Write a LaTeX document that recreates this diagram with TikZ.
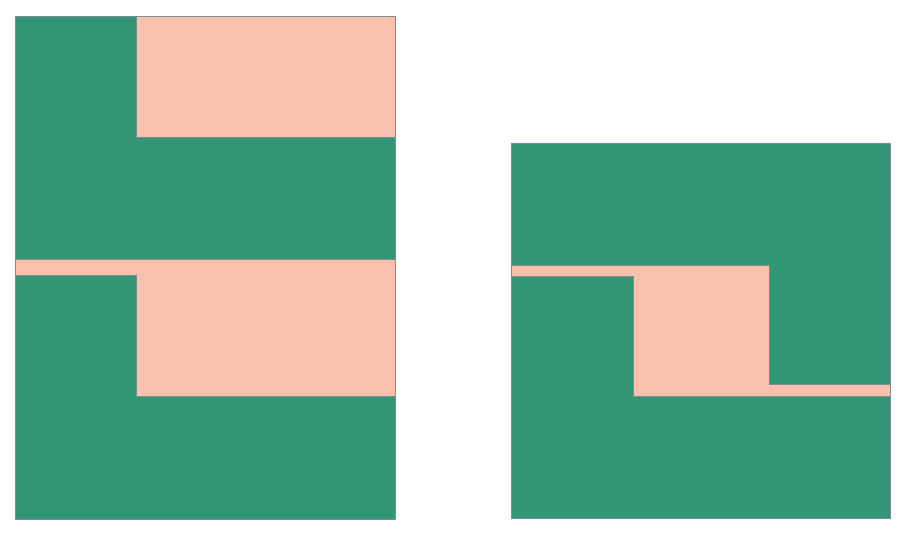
\documentclass[tikz,border=0pt]{standalone}
\definecolor{grn}{HTML}{339674}
\definecolor{pnk}{HTML}{FBC1AC}
\definecolor{edge}{HTML}{7C8A99}
\tikzset{greenarea/.style={fill=grn,draw=edge,line width=0.6pt},
pinkarea/.style={fill=pnk,draw=edge,line width=0.5pt}}
\begin{document}
\begin{tikzpicture}[x=1pt,y=-1pt]
\useasboundingbox (0,0) rectangle (909,540);
% left figure
\path[greenarea] (15,16) rectangle (395,519);
\path[pinkarea] (136,16) rectangle (395,137);
\path[pinkarea] (15,259) -- (395,259) -- (395,396) -- (136,396) -- (136,275) -- (15,275) -- cycle;
% right figure
\path[greenarea] (511,143) rectangle (890,518);
\path[pinkarea] (511,265) -- (769,265) -- (769,384) -- (890,384) -- (890,396) -- (633,396) -- (633,276) -- (511,276) -- cycle;
\end{tikzpicture}
\end{document}
